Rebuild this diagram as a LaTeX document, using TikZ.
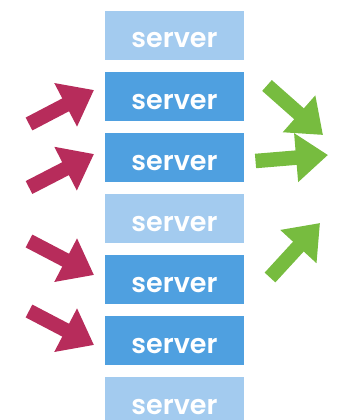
\documentclass[tikz,border=0pt]{standalone}
\usepackage{fontspec}
\newfontfamily\srvfont{Poppins}[UprightFont=* SemiBold]
\usetikzlibrary{arrows.meta}
\definecolor{srvlight}{HTML}{A3CBEF}
\definecolor{srvdark}{HTML}{4FA0E0}
\definecolor{inred}{HTML}{B72C5B}
\definecolor{outgreen}{HTML}{77BC3F}
\tikzset{
  srvbox/.style={rectangle, inner sep=0pt, minimum width=139pt, minimum height=49pt,
    text height=25pt, text depth=0pt, text=white, font=\srvfont\fontsize{27}{27}\selectfont},
  idle/.style={srvbox, fill=srvlight},
  busy/.style={srvbox, fill=srvdark},
  fatarrow/.style={line width=14.5pt, line cap=butt,
    -{Triangle[length=32pt, width=47pt]}},
  inarrow/.style={fatarrow, draw=inred, color=inred},
  outarrow/.style={fatarrow, draw=outgreen, color=outgreen},
}
\begin{document}
\begin{tikzpicture}[x=1pt, y=-1pt]
  \useasboundingbox (0,0) rectangle (340,420);
  % stack of servers
  \node[idle] (s1) at (174.5, 35.5) {server};
  \node[busy] (s2) at (174.5, 96.5) {server};
  \node[busy] (s3) at (174.5,157.5) {server};
  \node[idle] (s4) at (174.5,218.5) {server};
  \node[busy] (s5) at (174.5,279.5) {server};
  \node[busy] (s6) at (174.5,340.5) {server};
  \node[idle] (s7) at (174.5,401.5) {server};
  % incoming requests
  \coordinate (a1) at (29,124);   \coordinate (b1) at (94,90);
  \coordinate (a2) at (29,187.5); \coordinate (b2) at (94,154);
  \coordinate (a3) at (29,241);   \coordinate (b3) at (94,275);
  \coordinate (a4) at (29,311);   \coordinate (b4) at (94,345);
  \draw[inarrow] (a1) -- (b1);
  \draw[inarrow] (a2) -- (b2);
  \draw[inarrow] (a3) -- (b3);
  \draw[inarrow] (a4) -- (b4);
  % outgoing responses
  \coordinate (c1) at (267,85.5);  \coordinate (d1) at (323,135);
  \coordinate (c2) at (255.5,161); \coordinate (d2) at (328,155);
  \coordinate (c3) at (270,277.5); \coordinate (d3) at (320,223);
  \draw[outarrow] (c1) -- (d1);
  \draw[outarrow] (c2) -- (d2);
  \draw[outarrow] (c3) -- (d3);
\end{tikzpicture}
\end{document}
